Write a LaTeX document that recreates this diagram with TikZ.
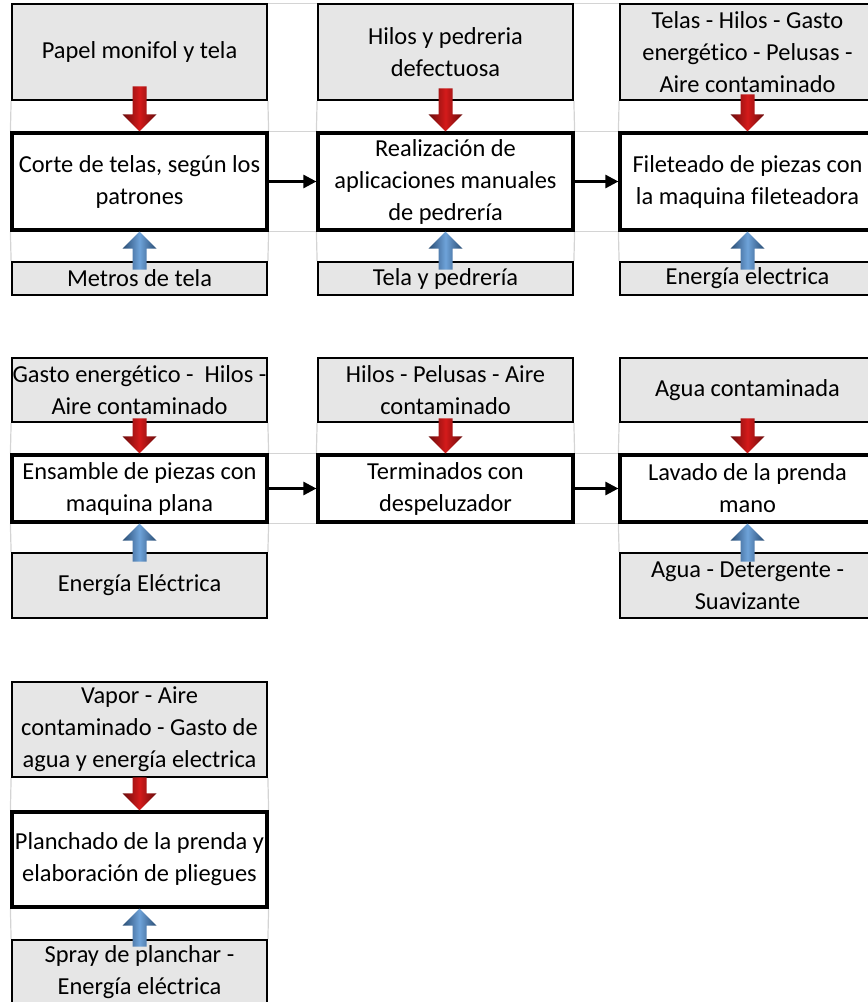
\documentclass[tikz,border=0pt]{standalone}
\usepackage{fontspec}
\setmainfont{Carlito}[Ligatures=NoCommon]
\usetikzlibrary{arrows.meta,backgrounds}

\definecolor{cajagris}{HTML}{E6E6E6}
\definecolor{grisrejilla}{HTML}{D4D4D4}
\definecolor{rojoflecha}{HTML}{D41A1A}
\definecolor{azulflecha}{HTML}{4A8BD0}

\tikzset{
    entrada/.style={draw, line width=1.8pt, fill=cajagris, minimum width=255pt, align=center, inner sep=0pt},
    proceso/.style={draw, line width=3.2pt, fill=white, minimum width=255pt, align=center, inner sep=0pt},
    flujo/.style={line width=2.6pt, -{Triangle[length=13pt,width=13pt]}},
    linearejilla/.style={grisrejilla, line width=1.2pt},
    pics/bajada/.style={code={
        \shade[left color=rojoflecha!50!black, right color=rojoflecha!50!black, middle color=rojoflecha]
            (0,0) -- (-17,17) -- (-7,17) -- (-7,17+#1) -- (7,17+#1) -- (7,17) -- (17,17) -- cycle;}},
    pics/subida/.style={code={
        \shade[left color=azulflecha!55!black, right color=azulflecha!55!black, middle color=azulflecha!80!white]
            (0,0) -- (-17,-17) -- (-7,-17) -- (-7,-17-#1) -- (7,-17-#1) -- (7,-17) -- (17,-17) -- cycle;}},
}

\begin{document}
\begin{tikzpicture}[x=1pt, y=1pt, font=\fontsize{24.4pt}{32pt}\selectfont]
    \useasboundingbox (0,0) rectangle (868,-1002);
    \clip (0,0) rectangle (868,-1002);

    % primera fila de procesos
    \node[entrada, minimum height=96pt] (t1) at (139.5,-52) {Papel monifol y tela};
    \node[entrada, minimum height=96pt] (t2) at (445.5,-52) {Hilos y pedreria\\defectuosa};
    \node[entrada, minimum height=96pt] (t3) at (747.5,-52) {Telas - Hilos - Gasto\\energético - Pelusas -\\Aire contaminado};
    \node[proceso, minimum height=97pt] (p1) at (139.5,-181.5) {Corte de telas, según los\\patrones};
    \node[proceso, minimum height=97pt] (p2) at (445.5,-181.5) {Realización de\\aplicaciones manuales\\de pedrería};
    \node[proceso, minimum height=97pt] (p3) at (747.5,-181.5) {Fileteado de piezas con\\la maquina fileteadora};
    \node[entrada, minimum height=33pt] (b1) at (139.5,-278.5) {Metros de tela};
    \node[entrada, minimum height=33pt] (b2) at (445.5,-278.5) {Tela y pedrería};
    \node[entrada, minimum height=33pt] (b3) at (747.5,-278.5) {Energía electrica};

    % segunda fila
    \node[entrada, minimum height=64pt] (t4) at (139.5,-390) {Gasto energético -\ \ Hilos -\\Aire contaminado};
    \node[entrada, minimum height=64pt] (t5) at (445.5,-390) {Hilos - Pelusas - Aire\\contaminado};
    \node[entrada, minimum height=64pt] (t6) at (747.5,-390) {Agua contaminada};
    \node[proceso, minimum height=67pt] (p4) at (139.5,-488.5) {Ensamble de piezas con\\maquina plana};
    \node[proceso, minimum height=67pt] (p5) at (445.5,-488.5) {Terminados con\\despeluzador};
    \node[proceso, minimum height=67pt] (p6) at (747.5,-488.5) {Lavado de la prenda\\mano};
    \node[entrada, minimum height=65pt] (b4) at (139.5,-585.5) {Energía Eléctrica};
    \node[entrada, minimum height=65pt] (b6) at (747.5,-585.5) {Agua - Detergente -\\Suavizante};

    % tercera fila
    \node[entrada, minimum height=95pt] (t7) at (139.5,-729.5) {Vapor - Aire\\contaminado - Gasto de\\agua y energía electrica};
    \node[proceso, minimum height=95pt] (p7) at (139.5,-859.5) {Planchado de la prenda y\\elaboración de pliegues};
    \node[entrada, minimum height=65pt] (b7) at (139.5,-972.5) {Spray de planchar -\\Energía eléctrica};

    % rejilla de la hoja
    \begin{scope}[on background layer]
        \draw[linearejilla] (t1.north east) -- (t2.north west) (t2.north east) -- (t3.north west);
        \foreach \n in {1,2,3,4,5,7} {
            \draw[linearejilla] (t\n.south west) -- (p\n.north west) (t\n.south east) -- (p\n.north east);
        }
        \draw[linearejilla] (t6.south west) -- (p6.north west);
        \foreach \n in {1,2,3,4,7} {
            \draw[linearejilla] (p\n.south west) -- (b\n.north west) (p\n.south east) -- (b\n.north east);
        }
        \draw[linearejilla] (p6.south west) -- (b6.north west);
        \foreach \a/\b in {1/2,2/3,4/5,5/6} {
            \draw[linearejilla] (p\a.north east) -- (p\b.north west) (p\a.south east) -- (p\b.south west);
        }
    \end{scope}

    % flechas de salida y entrada
    \pic at (p1.north) {bajada=28};
    \pic at (p2.north) {bajada=26};
    \pic at (p3.north) {bajada=20};
    \pic at (p4.north) {bajada=18};
    \pic at (p5.north) {bajada=18};
    \pic at (p6.north) {bajada=18};
    \pic at (p7.north) {bajada=16};
    \foreach \n in {1,2,3,4,6,7} {
        \pic at (p\n.south) {subida=21};
    }

    \draw[flujo] (p1) -- (p2);
    \draw[flujo] (p2) -- (p3);
    \draw[flujo] (p4) -- (p5);
    \draw[flujo] (p5) -- (p6);
\end{tikzpicture}
\end{document}
